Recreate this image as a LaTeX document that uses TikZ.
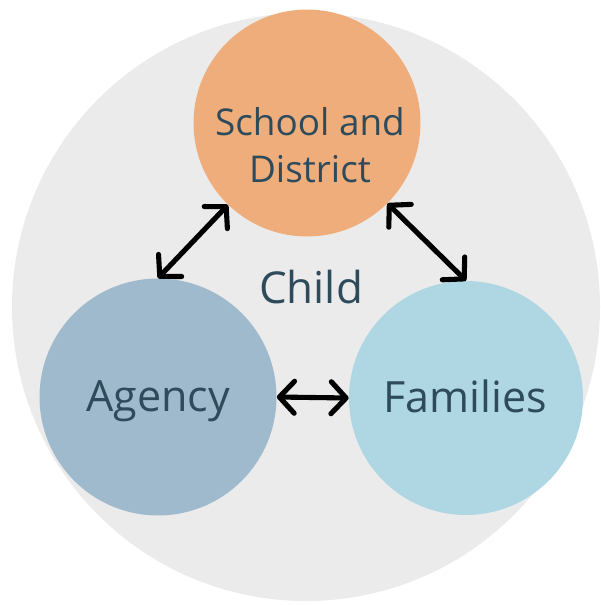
\documentclass[tikz,border=0pt]{standalone}
\usepackage{fontspec}
\setmainfont{Open Sans}
\usetikzlibrary{arrows.meta}
\definecolor{ringgray}{HTML}{EBEBEB}
\definecolor{schoolc}{HTML}{EFAD7B}
\definecolor{agencyc}{HTML}{A0BACD}
\definecolor{familyc}{HTML}{AED6E3}
\definecolor{inkc}{HTML}{2E4B5C}
\tikzset{
  hub/.style={circle, inner sep=0pt, minimum size=4.6cm, text=inkc, align=center, font=\fontsize{24.5}{28}\selectfont},
  lbl/.style={text=inkc, align=center, font=\fontsize{21}{27}\selectfont},
  dblarr/.style={{Straight Barb[length=3mm, width=6.4mm, round]}-{Straight Barb[length=3mm, width=6.4mm, round]}, line width=2.9pt, black, line cap=round},
}
\begin{document}
\begin{tikzpicture}[x=0.02cm, y=-0.02cm]
\useasboundingbox (0,0) rectangle (600,605);

% outer ring
\fill[ringgray] (306,307) circle (294);

\node[hub, fill=schoolc, minimum size=4.54cm] (school) at (307,123) {};
\node[lbl] (schooltxt) at (310,145) {School and\\District};
\node[hub, fill=agencyc, minimum size=4.74cm] (agency) at (158,397) {};
\node[lbl, font=\fontsize{24.5}{28}\selectfont] (agencytxt) at (158,401) {Agency};
\node[hub, fill=familyc, minimum size=4.68cm] (families) at (466,398) {};
\node[lbl, font=\fontsize{24.5}{28}\selectfont] (familiestxt) at (465,396) {Families};
\node[lbl, font=\fontsize{25}{28}\selectfont] (child) at (311,287) {Child};

\draw[dblarr] (school.226) -- (agency.90);
\draw[dblarr] (school.315) -- (families.90);
\draw[dblarr] (agency.0) -- (families.180);

\end{tikzpicture}
\end{document}
